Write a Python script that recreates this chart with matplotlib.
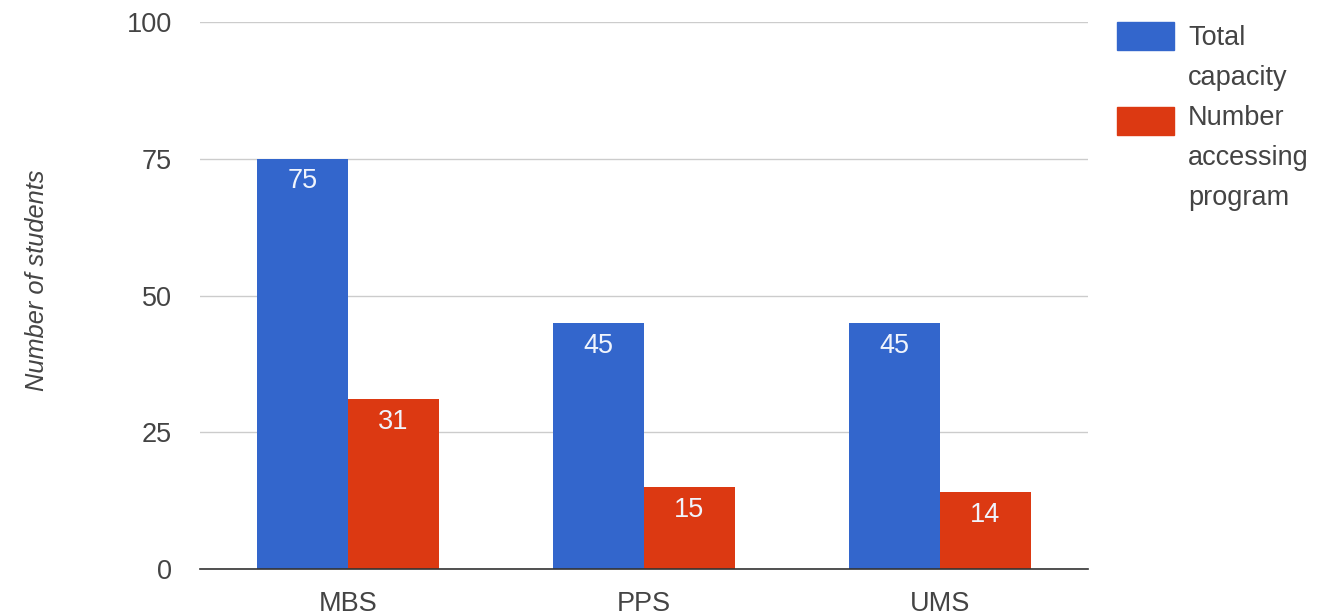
import matplotlib
matplotlib.use("Agg")
import matplotlib.pyplot as plt
from matplotlib.patches import Rectangle
import numpy as np

categories = ["MBS", "PPS", "UMS"]
total_capacity = [75, 45, 45]
number_accessing = [31, 15, 14]
series_names = [["Total", "capacity"], ["Number", "accessing", "program"]]
yticks = [0, 25, 50, 75, 100]

BLUE = "#3366CC"
RED = "#DC3912"
TXT = "#444444"

plt.rcParams['font.family'] = ['Liberation Sans', 'DejaVu Sans']

fig = plt.figure(figsize=(13.24, 6.16), dpi=100)
ax = fig.add_axes([200/1324, 1-569/616, 888/1324, 547/616])

x = np.arange(len(categories))
w = 0.307
b1 = ax.bar(x - w/2, total_capacity, w, color=BLUE, zorder=3)
b2 = ax.bar(x + w/2, number_accessing, w, color=RED, zorder=3)

for bars, vals in ((b1, total_capacity), (b2, number_accessing)):
    for r, v in zip(bars, vals):
        ax.annotate(str(v), (r.get_x() + r.get_width()/2, v), xytext=(0, -7),
                    textcoords="offset points", ha="center", va="top",
                    color="#f0f4fc", fontsize=19.5, zorder=4)

ax.set_xlim(-0.5, 2.5)
ax.set_ylim(0, 100)
ax.set_yticks(yticks)
ax.set_yticklabels([str(t) for t in yticks])
ax.set_xticks(x)
ax.set_xticklabels(categories)
ax.tick_params(axis="y", length=0, pad=20, labelsize=19.5, labelcolor=TXT)
ax.tick_params(axis="x", length=0, pad=15.5, labelsize=19.5, labelcolor=TXT)
ax.grid(axis="y", color="#cccccc", linewidth=1, zorder=0)
for s in ("top", "right", "left"):
    ax.spines[s].set_visible(False)
ax.spines["bottom"].set_color("#333333")
ax.spines["bottom"].set_linewidth(1.2)
ax.spines["bottom"].set_zorder(5)

ax.set_ylabel("Number of students", fontsize=18.3, style="italic", color=TXT)
ax.yaxis.set_label_coords(-0.170, 0.527)

# legend (manual)
W, H = 1324, 616
line_h = 40
baseline = 45
for col, lines, ytop in ((BLUE, series_names[0], 22), (RED, series_names[1], 107)):
    fig.add_artist(Rectangle((1117/W, 1-(ytop+28)/H), 57/W, 28/H,
                             transform=fig.transFigure, color=col))
    for ln in lines:
        fig.text(1188/W, 1-baseline/H, ln, ha="left", va="baseline",
                 fontsize=19.5, color=TXT)
        baseline += line_h

fig.savefig("out.png", dpi=100)
